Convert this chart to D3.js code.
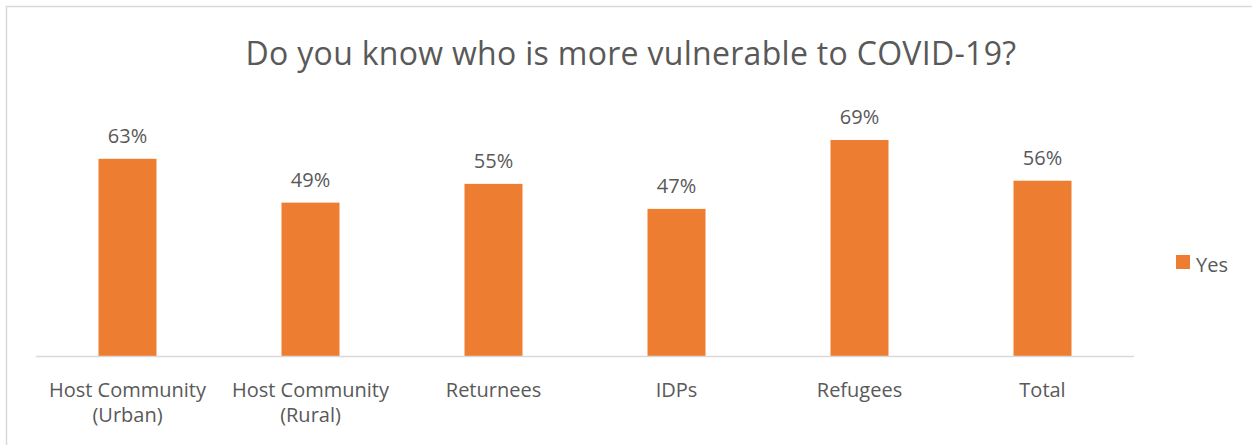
<!DOCTYPE html>
<html>
<head>
<meta charset="utf-8">
<script src="https://cdn.jsdelivr.net/npm/d3@7"></script>
<style>
  body { margin: 0; background: #fff; }
  text { font-family: "Open Sans", sans-serif; fill: #595959; }
</style>
</head>
<body>
<div id="chart"></div>
<script>
var categories = [["Host Community", "(Urban)"], ["Host Community", "(Rural)"], ["Returnees"], ["IDPs"], ["Refugees"], ["Total"]];
var yesValues = [0.63, 0.49, 0.55, 0.47, 0.69, 0.56];
var seriesName = "Yes";
var titleText = "Do you know who is more vulnerable to COVID-19?";

var width = 1252,
    height = 445;

var svg = d3.select("#chart").append("svg")
    .attr("width", width)
    .attr("height", height);

// chart frame (only top and left edges are visible)
svg.append("rect")
    .attr("x", 6.5).attr("y", 6.5)
    .attr("width", width + 10).attr("height", height + 10)
    .attr("fill", "none")
    .attr("stroke", "#d9d9d9")
    .attr("stroke-width", 1.5);

var x = d3.scaleBand()
    .domain(d3.range(categories.length))
    .range([36, 1134])
    .paddingInner(0.683)
    .paddingOuter(0.3415);

var y = d3.scaleLinear()
    .domain([0, 0.8])
    .range([356, 105.6]);

svg.append("text")
    .attr("x", 631)
    .attr("y", 65)
    .attr("text-anchor", "middle")
    .style("font-size", "32px")
    .style("letter-spacing", "0.3px")
    .text(titleText);

svg.selectAll("rect.bar")
    .data(yesValues)
    .enter().append("rect")
    .attr("class", "bar")
    .attr("x", function (d, i) { return x(i); })
    .attr("y", function (d) { return y(d); })
    .attr("width", x.bandwidth())
    .attr("height", function (d) { return y(0) - y(d); })
    .attr("fill", "#ed7d31");

svg.selectAll("text.val")
    .data(yesValues)
    .enter().append("text")
    .attr("class", "val")
    .attr("x", function (d, i) { return x(i) + x.bandwidth() / 2; })
    .attr("y", function (d) { return y(d) - 16; })
    .attr("text-anchor", "middle")
    .style("font-size", "20px")
    .text(function (d) { return d3.format(".0%")(d); });

// baseline
svg.append("line")
    .attr("x1", 36).attr("x2", 1134)
    .attr("y1", 356.5).attr("y2", 356.5)
    .attr("stroke", "#d9d9d9")
    .attr("stroke-width", 1.5);

var labels = svg.selectAll("text.cat")
    .data(categories)
    .enter().append("text")
    .attr("class", "cat")
    .attr("text-anchor", "middle")
    .style("font-size", "20px");

labels.selectAll("tspan")
    .data(function (d, i) { return d.map(function (s) { return { s: s, i: i }; }); })
    .enter().append("tspan")
    .attr("x", function (d) { return x(d.i) + x.bandwidth() / 2; })
    .attr("y", function (d, j) { return 397 + j * 25; })
    .text(function (d) { return d.s; });

// legend
svg.append("rect")
    .attr("x", 1176).attr("y", 255)
    .attr("width", 14).attr("height", 14)
    .attr("fill", "#ed7d31");
svg.append("text")
    .attr("x", 1196).attr("y", 272)
    .style("font-size", "20px")
    .text(seriesName);
</script>
</body>
</html>
